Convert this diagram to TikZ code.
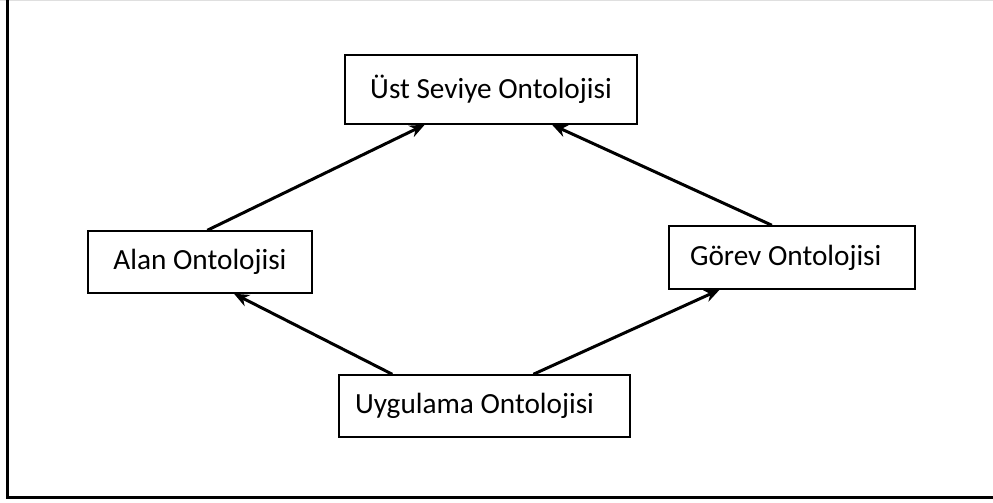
\documentclass[tikz,border=0pt]{standalone}
\usepackage{fontspec}
\setmainfont{Carlito}
\usetikzlibrary{arrows, arrows.meta, positioning}

\begin{document}
\begin{tikzpicture}[->, >={Stealth[length=6pt, width=5pt]}, x=0.4pt, y=-0.4pt,
    onto/.style={draw, -, line width=0.6pt, inner sep=0pt, font=\fontsize{11.7}{14}\selectfont},
    link/.style={line width=1.2pt}]
    \useasboundingbox (0,0) rectangle (993,502);
    % frame
    \draw[-, gray!25, line width=0.5pt] (0,0.6) -- (993,0.6);
    \draw[-, line width=1.2pt] (7,0) -- (7,497) -- (993,497);

    \node[onto, minimum width=116.8pt, minimum height=27.6pt] (top) at (491,89.5) {\raisebox{1.5pt}{Üst Seviye Ontolojisi}};
    \node[onto, minimum width=89.6pt, minimum height=24.8pt] (alan) at (200,262) {\raisebox{1pt}{Alan Ontolojisi}};
    \node[onto, minimum width=98.4pt, minimum height=25.2pt] (gorev) at (792,257.5) {\hspace*{-5pt}\raisebox{1pt}{Görev Ontolojisi}};
    \node[onto, minimum width=116.4pt, minimum height=24.8pt] (uyg) at (484.5,406) {\hspace*{-8pt}\raisebox{1pt}{Uygulama Ontolojisi}};

    \path (alan.77) edge[link] (top.208);
    \path (gorev.122) edge[link] (top.330);
    \path (uyg.161) edge[link] (alan.317);
    \path (uyg.33) edge[link] (gorev.204);
\end{tikzpicture}
\end{document}
